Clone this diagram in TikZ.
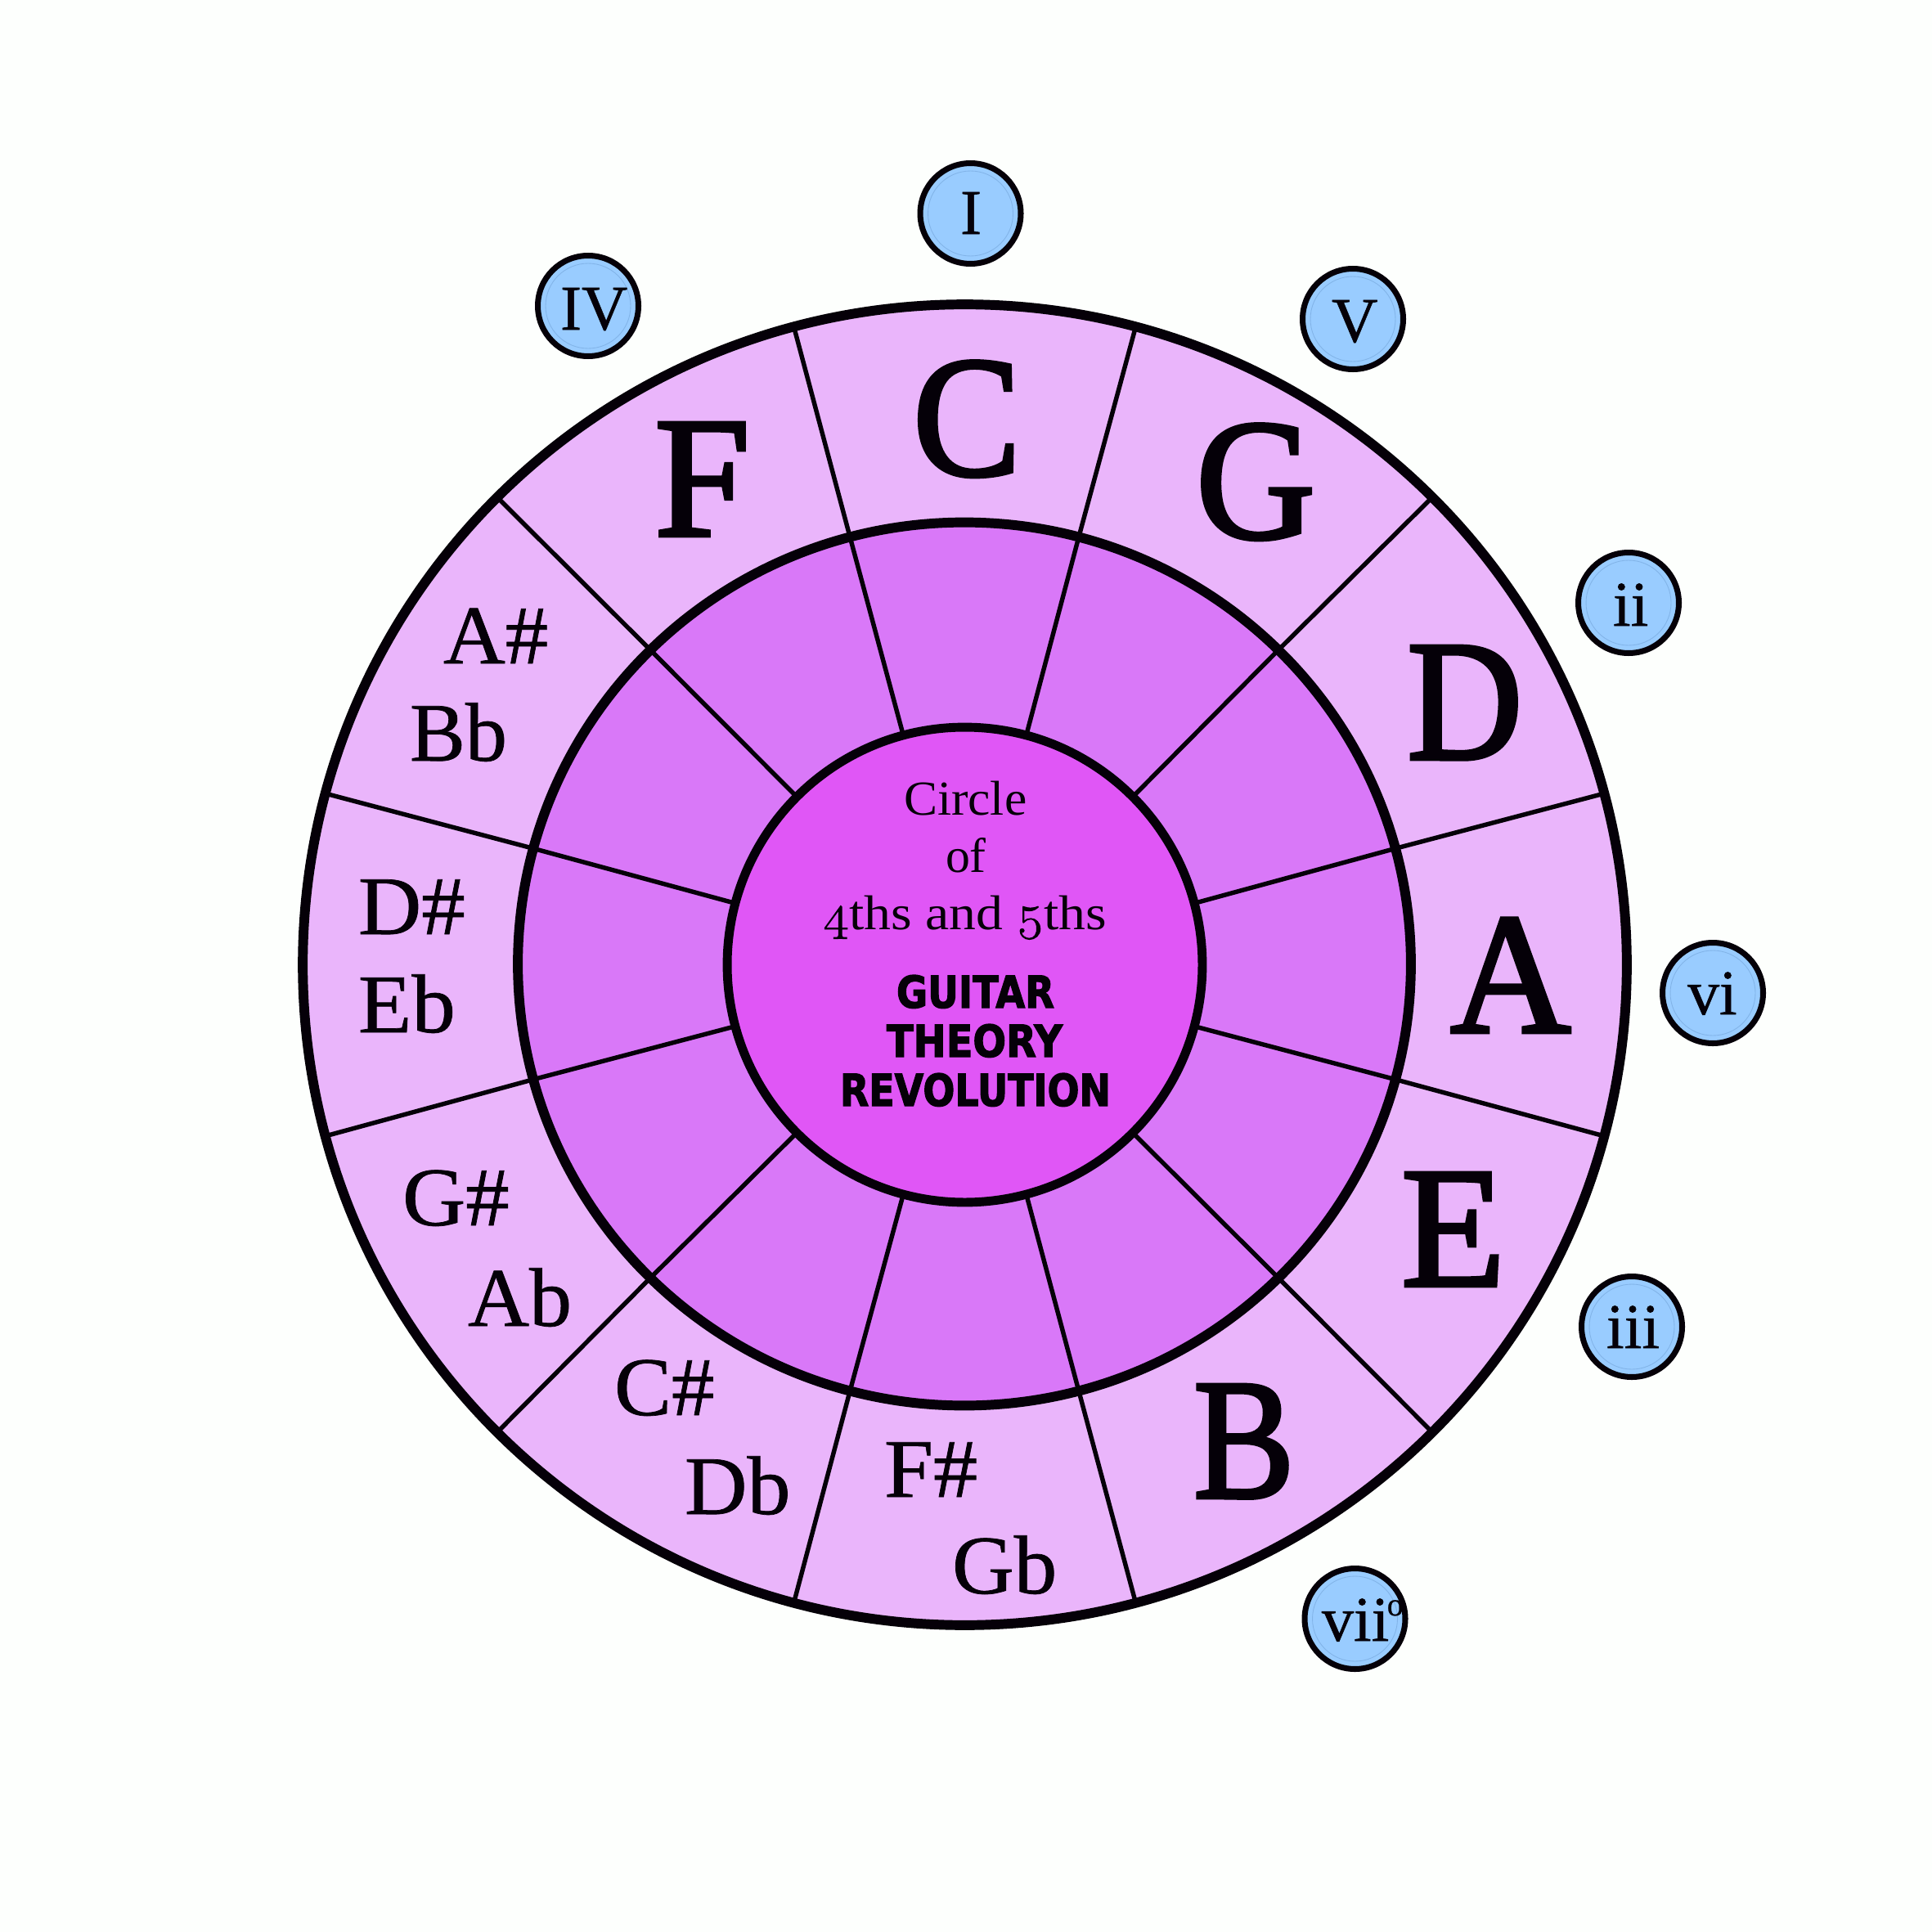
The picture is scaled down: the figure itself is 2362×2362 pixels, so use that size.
\documentclass[tikz,border=0pt]{standalone}
\usepackage{fontspec}
\usepackage{graphicx}
\usetikzlibrary{shapes.geometric}
\setmainfont{Liberation Serif}
\newfontfamily\majorfont[FakeBold=2.2]{Liberation Serif}
\newfontfamily\minorfont[FakeBold=0.7]{Liberation Serif}
\newfontfamily\gtrfont[FakeBold=2.5]{DejaVu Sans Bold}
\newfontfamily\oldnumfont[Numbers=OldStyle,FakeBold=1.5]{Latin Modern Roman}
\newcommand{\hsc}[2]{\scalebox{#1}[1]{#2}}
\definecolor{pagebg}{HTML}{FDFFFD}
\definecolor{ringA}{HTML}{EAB5FB}
\definecolor{ringB}{HTML}{D978F8}
\definecolor{ringC}{HTML}{E056F6}
\definecolor{degblue}{HTML}{99CCFF}
\definecolor{degline}{HTML}{82B4E8}
\definecolor{ink}{HTML}{050008}
\tikzset{
  disc/.style={ellipse,draw=ink,inner sep=0pt,outer sep=0pt},
  spoke/.style={draw=ink,line width=3.1pt},
  degdisc/.style={circle,draw=ink,fill=degblue,line width=4pt,inner sep=0pt,outer sep=0pt,minimum size=2.46cm},
  degring/.style={circle,draw=degline,line width=0.5pt,inner sep=0pt,outer sep=0pt,minimum size=2.08cm},
  lab/.style={anchor=base west,inner sep=0pt,outer sep=0pt,text=ink},
  major/.style={lab,font=\majorfont\fontsize{120}{120}\selectfont},
  minor/.style={lab,font=\minorfont\fontsize{58}{58}\selectfont},
  degree/.style={lab,font=\minorfont\fontsize{44.4}{44.4}\selectfont},
  title/.style={lab,font=\fontsize{34}{34}\selectfont},
  brand/.style={lab,font=\gtrfont},
}
\begin{document}
\begin{tikzpicture}[x=0.02cm,y=-0.02cm]
\path[fill=pagebg,use as bounding box] (0,0) rectangle (2362,2362);
\coordinate (c) at (1179.5,1179.5);
\node[disc,fill=ringA,line width=6.8pt,minimum width=32.38cm,minimum height=32.3cm] (outer) at (c) {};
\node[disc,fill=ringB,line width=6.8pt,minimum width=21.84cm,minimum height=21.6cm] (mid) at (1179,1178.5) {};
\node[disc,fill=ringC,line width=6.2pt,minimum width=11.62cm,minimum height=11.62cm] (inner) at (c) {};
\foreach \a in {15,45,...,345}{
  \draw[spoke] (outer.\a) -- (mid.\a);
  \draw[spoke] (mid.\a) -- (inner.\a);
}
% major keys
\node[major] (kC) at (1116,581) {\hsc{0.94}{C}};
\node[major] (kG) at (1462,658) {\hsc{0.96}{G}};
\node[major] (kD) at (1720,928) {\hsc{0.93}{D}};
\node[major] (kA) at (1773,1262) {\hsc{0.97}{A}};
\node[major] (kE) at (1713,1572) {\hsc{0.99}{E}};
\node[major] (kB) at (1459,1831) {\hsc{0.88}{B}};
\node[major] (kF) at (800,655) {F};
% enharmonic keys
\node[minor] (kAs) at (542,811) {\hsc{1.03}{A\#}};
\node[minor] (kBb) at (501,930) {Bb};
\node[minor] (kDs) at (438,1142) {\hsc{1.05}{D\#}};
\node[minor] (kEb) at (438,1262) {\hsc{1.05}{Eb}};
\node[minor] (kGs) at (492,1498) {\hsc{1.05}{G\#}};
\node[minor] (kAb) at (572,1621) {\hsc{1.02}{Ab}};
\node[minor] (kCs) at (751,1730) {\hsc{1.03}{C\#}};
\node[minor] (kDb) at (837,1851) {\hsc{1.04}{Db}};
\node[minor] (kFs) at (1081,1830) {\hsc{1.06}{F\#}};
\node[minor] (kGb) at (1164,1948) {\hsc{1.03}{Gb}};
% centre text
\node[title] (t1) at (1105,996) {\hsc{1.03}{Circle}};
\node[title] (t2) at (1156,1066) {of};
\node[title] (t3) at (1006,1136) {\hsc{1.1}{{\oldnumfont 4}ths and {\oldnumfont 5}ths}};
\node[brand] (b1) at (1096,1232) {\resizebox{3.86cm}{0.8cm}{GUITAR}};
\node[brand] (b2) at (1084,1292) {\resizebox{4.3cm}{0.8cm}{THEORY}};
\node[brand] (b3) at (1027,1352) {\resizebox{6.62cm}{0.8cm}{REVOLUTION}};
% degree discs
\foreach \n/\x/\y in {I/1186.5/261,IV/719/374,V/1654/390,ii/1991/737,vi/2094/1214,iii/1995/1622,vii/1656.5/1979}{
  \node[degdisc] (d\n) at (\x,\y) {};
  \node[degring] (r\n) at (\x,\y) {};
}
\node[degree] (tI) at (1174,286) {I};
\node[degree] (tIV) at (685,403) {IV};
\node[degree] (tV) at (1628,418) {V};
\node[degree] (tii) at (1972,765) {ii};
\node[degree] (tvi) at (2063,1240) {vi};
\node[degree] (tiii) at (1964,1648) {iii};
\node[degree] (tvii) at (1616,2006) {vii\kern-1.5pt\raisebox{17.6pt}{\fontsize{22.8}{22.8}\selectfont o}};
\end{tikzpicture}
\end{document}
